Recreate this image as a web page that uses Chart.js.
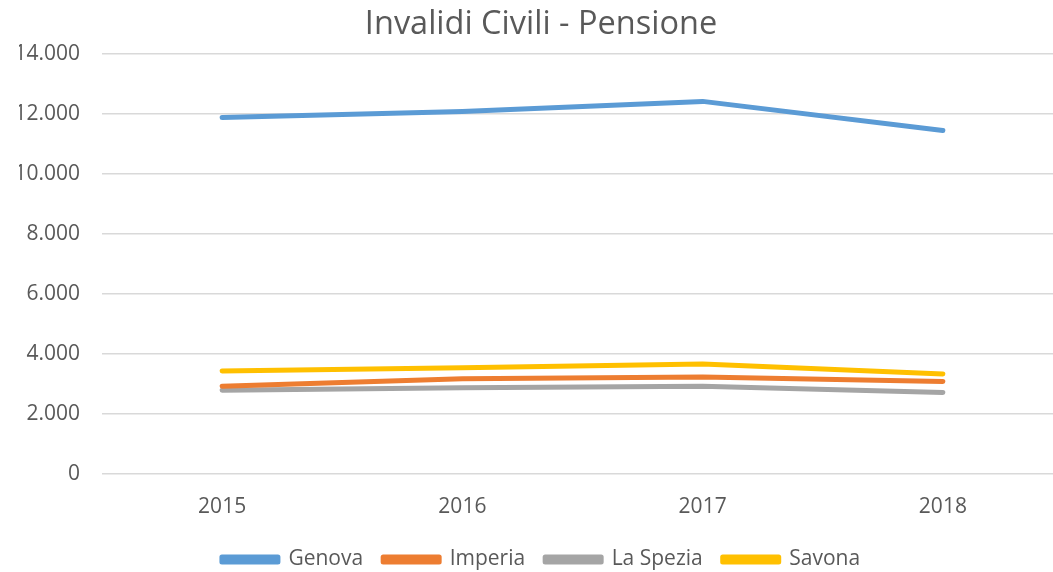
<!DOCTYPE html>
<html>
<head>
<meta charset="utf-8">
<script src="https://cdn.jsdelivr.net/npm/chart.js@4"></script>
<style>
  html, body { margin: 0; padding: 0; background: #fff; overflow: hidden; }
  #wrap { width: 1082px; height: 572px; }
</style>
</head>
<body>
<div id="wrap"><canvas id="pensioniChart"></canvas></div>
<script>
const years = ['2015', '2016', '2017', '2018'];
const genova = [11880, 12080, 12420, 11450];
const imperia = [2920, 3170, 3230, 3080];
const laSpezia = [2790, 2870, 2920, 2710];
const savona = [3430, 3540, 3660, 3330];

const fontFamily = "'Open Sans', 'Noto Sans', sans-serif";

function fmt(v) {
    return String(v).replace(/\B(?=(\d{3})+(?!\d))/g, '.');
}

function serie(label, data, color) {
    return {
        label: label,
        data: data,
        borderColor: color,
        backgroundColor: color,
        borderWidth: 5,
        borderCapStyle: 'round',
        borderJoinStyle: 'round',
        pointRadius: 0,
        pointHoverRadius: 0,
        tension: 0
    };
}

// pull the legend a bit closer to the x labels
const legendFit = {
    id: 'legendFit',
    beforeLayout(chart) {
        const lg = chart.legend;
        if (!lg || lg._fitWrapped) return;
        const fit = lg.fit.bind(lg);
        lg.fit = function() { fit(); this.height -= 12; };
        const draw = lg.draw.bind(lg);
        lg.draw = function() {
            const top = this.top, bottom = this.bottom;
            this.top = top - 4;
            this.bottom = bottom + 20;
            draw();
            this.top = top;
            this.bottom = bottom;
        };
        lg._fitWrapped = true;
    }
};

document.addEventListener('DOMContentLoaded', function() {
    const ctx = document.getElementById('pensioniChart').getContext('2d');
    new Chart(ctx, {
        type: 'line',
        data: {
            labels: years,
            datasets: [
                serie('Genova', genova, '#5B9BD5'),
                serie('Imperia', imperia, '#ED7D31'),
                serie('La Spezia', laSpezia, '#A5A5A5'),
                serie('Savona', savona, '#FFC000')
            ]
        },
        plugins: [legendFit],
        options: {
            responsive: true,
            maintainAspectRatio: false,
            animation: false,
            layout: { padding: { left: 19, right: 19, top: 0, bottom: 0 } },
            plugins: {
                title: {
                    display: true,
                    text: 'Invalidi Civili - Pensione',
                    color: '#595959',
                    font: { family: fontFamily, size: 32.5, weight: 'normal', lineHeight: 1.2 },
                    padding: { top: 5, bottom: 10 }
                },
                legend: {
                    position: 'bottom',
                    labels: {
                        color: '#595959',
                        font: { family: fontFamily, size: 21 },
                        boxWidth: 56,
                        boxHeight: 5,
                        padding: 20
                    }
                },
                tooltip: { enabled: false }
            },
            scales: {
                x: {
                    offset: true,
                    grid: { display: false },
                    border: { display: false },
                    ticks: {
                        color: '#595959',
                        font: { family: fontFamily, size: 21 },
                        padding: 13
                    }
                },
                y: {
                    min: 0,
                    max: 14000,
                    grid: { color: '#D9D9D9', lineWidth: 1.5, drawTicks: false },
                    border: { display: false },
                    ticks: {
                        stepSize: 2000,
                        color: '#595959',
                        font: { family: fontFamily, size: 21 },
                        padding: 22,
                        callback: function(v) { return fmt(v); }
                    },
                    afterFit: function(axis) { axis.width = 83; }
                }
            }
        }
    });
});
</script>
</body>
</html>
